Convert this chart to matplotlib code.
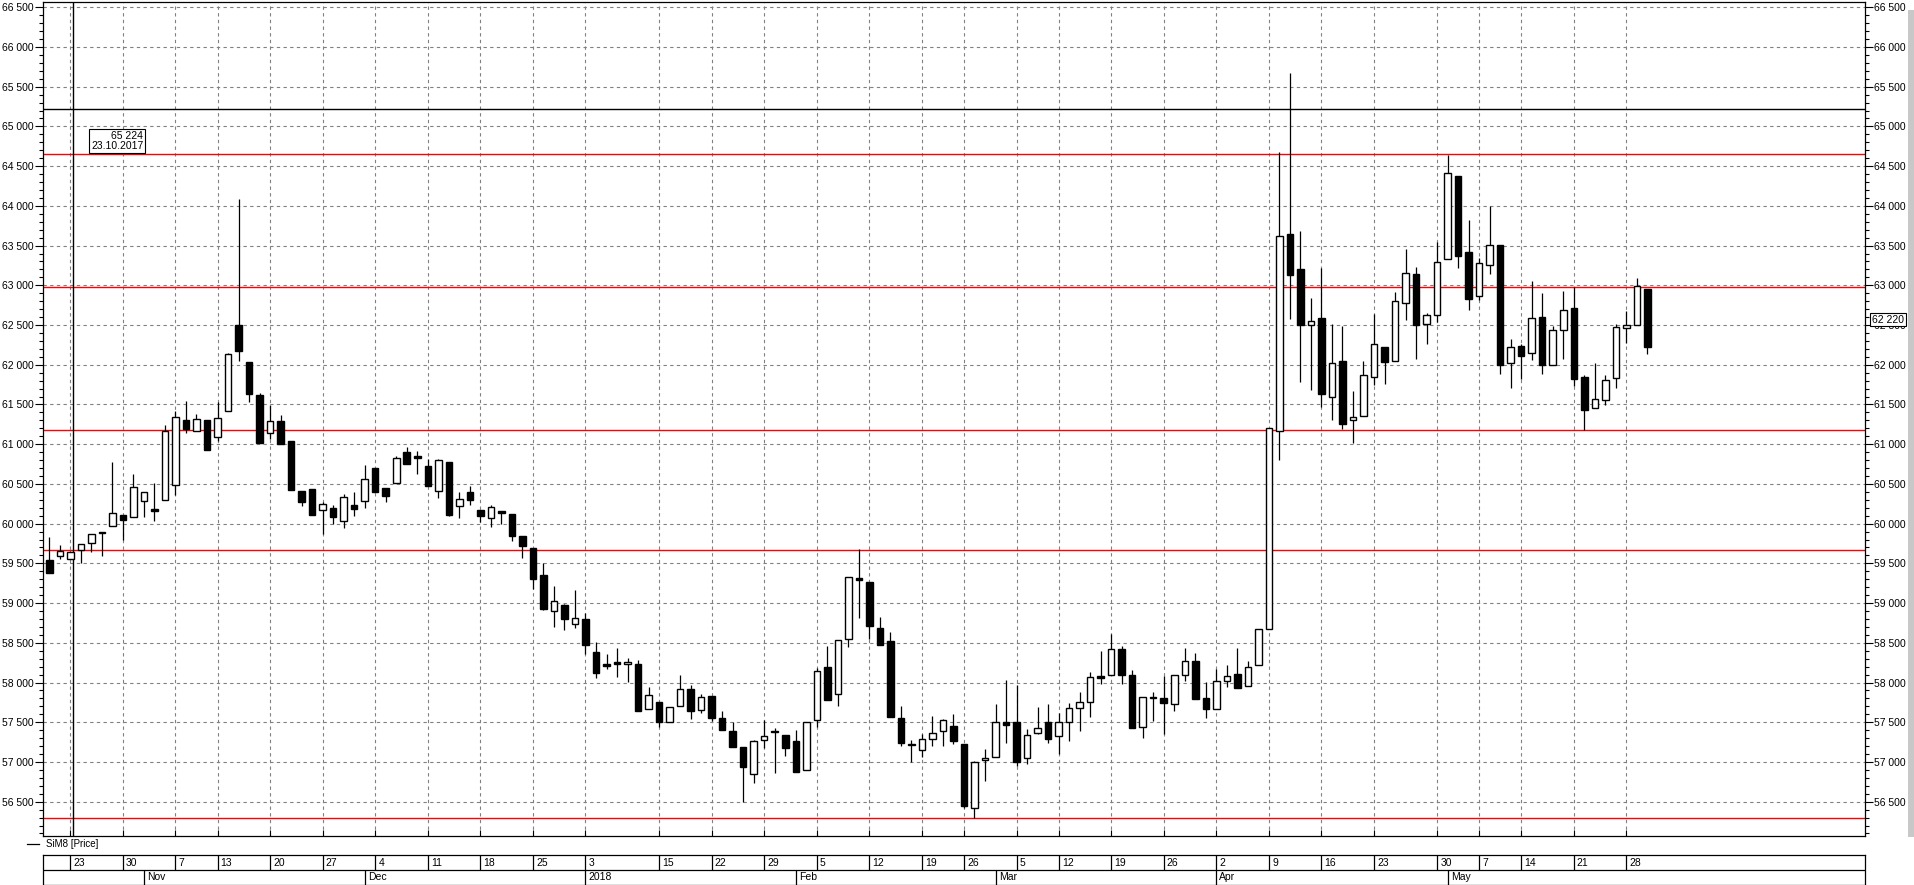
import matplotlib
matplotlib.use('Agg')
import matplotlib.pyplot as plt
from matplotlib.lines import Line2D
from matplotlib.patches import Rectangle
from matplotlib.ticker import FuncFormatter, MultipleLocator
import numpy as np

plt.rcParams['font.family'] = ['Liberation Sans', 'DejaVu Sans']

# daily candles for SiM8, 19.10.2017 .. 31.05.2018
opens = [59543, 59597, 59551, 59668, 59752, 59899, 59966, 60105, 60080, 60281,
         60185, 60294, 60482, 61305, 61162, 61305, 61087, 61418, 62497, 62031,
         61615, 61137, 61288, 61036, 60407, 60432, 60168, 60193, 60029, 60231,
         60281, 60696, 60445, 60508, 60898, 60852, 60726, 60407, 60772, 60218,
         60399, 60168, 60067, 60155, 60117, 59841, 59689, 59350, 58896, 58976,
         58733, 58796, 58385, 58217, 58254, 58229, 58229, 57663, 57751, 57499,
         57700, 57914, 57650, 57830, 57549, 57390, 57188, 56844, 57272, 57390,
         57339, 57264, 56895, 57524, 58195, 57851, 58544, 59312, 59261, 58682,
         58523, 57549, 57210, 57146, 57285, 57386, 57449, 57222, 56416, 57021,
         57058, 57499, 57499, 57050, 57365, 57499, 57327, 57507, 57675, 57751,
         58078, 58091, 58418, 58091, 57436, 57805, 57801, 57725, 58091, 58271,
         57801, 57663, 58019, 58103, 57956, 58221, 58670, 61166, 63642, 63201,
         62496, 62584, 61590, 62047, 61300, 61351, 61850, 62223, 62043, 62782,
         63142, 62509, 62622, 63327, 64376, 63419, 62861, 63251, 63507, 62018,
         62232, 62144, 62597, 62001, 62433, 62714, 61846, 61451, 61552, 61829,
         62458, 62496, 62949]
highs = [59828, 59731, 59660, 59740, 59866, 59899, 60772, 60105, 60621, 60394,
         60508, 61238, 61422, 61544, 61376, 61305, 61527, 62144, 64087, 62031,
         61641, 61494, 61364, 61036, 60407, 60432, 60277, 60235, 60373, 60399,
         60738, 60696, 60445, 60852, 60961, 60910, 60818, 60810, 60772, 60399,
         60474, 60168, 60231, 60155, 60117, 59841, 59689, 59509, 59215, 58990,
         59165, 58875, 58510, 58359, 58431, 58305, 58284, 57944, 57751, 57688,
         58095, 57969, 57856, 57830, 57637, 57499, 57188, 57277, 57524, 57423,
         57339, 57402, 57499, 58179, 58460, 58531, 59324, 59677, 59261, 58821,
         58632, 57705, 57277, 57352, 57579, 57537, 57604, 57222, 57016, 57163,
         57730, 58032, 57969, 57411, 57692, 57725, 57612, 57738, 57877, 58128,
         58397, 58611, 58460, 58153, 57822, 57877, 58086, 58091, 58430, 58367,
         58002, 58170, 58216, 58430, 58271, 58670, 61200, 64674, 65670, 63684,
         62840, 63222, 62513, 62488, 61670, 62047, 62639, 62223, 62912, 63457,
         63230, 62656, 63541, 64640, 64376, 63822, 63340, 63994, 63507, 62320,
         62257, 63054, 62903, 62488, 62928, 62975, 61871, 62018, 61871, 62513,
         62681, 63092, 62949]
lows = [59383, 59555, 59551, 59501, 59648, 59597, 59966, 59794, 60080, 60088,
        60038, 60294, 60361, 61145, 61162, 60931, 61036, 61418, 62052, 61536,
        61019, 61070, 61007, 60428, 60227, 60113, 59866, 59996, 59950, 60101,
        60201, 60403, 60277, 60508, 60747, 60629, 60478, 60327, 60100, 60075,
        60239, 60025, 59962, 59996, 59786, 59572, 59182, 58913, 58703, 58661,
        58691, 58363, 58061, 58175, 58074, 58007, 57646, 57663, 57444, 57499,
        57700, 57545, 57621, 57520, 57398, 57193, 56500, 56731, 57176, 56865,
        57079, 56878, 56895, 57444, 57784, 57709, 58451, 58816, 58544, 58477,
        57560, 57205, 57004, 57067, 57205, 57205, 57230, 56425, 56290, 56765,
        57058, 57243, 56950, 56980, 57356, 57235, 57100, 57268, 57394, 57570,
        57977, 58091, 57977, 57423, 57297, 57520, 57352, 57646, 58023, 57788,
        57549, 57663, 57948, 57930, 57956, 58221, 58670, 60800, 62580, 61787,
        61686, 61472, 61309, 61195, 61019, 61351, 61745, 61758, 62043, 62563,
        62072, 62265, 62542, 63327, 63222, 62689, 62815, 63142, 61884, 61707,
        61821, 62064, 61884, 62001, 62072, 61733, 61179, 61451, 61489, 61712,
        62278, 62496, 62140]
closes = [59383, 59656, 59639, 59740, 59866, 59878, 60134, 60050, 60457, 60394,
          60164, 61166, 61338, 61196, 61313, 60931, 61326, 62131, 62178, 61636,
          61019, 61288, 61007, 60428, 60268, 60113, 60243, 60088, 60331, 60189,
          60558, 60403, 60352, 60822, 60747, 60831, 60478, 60797, 60109, 60306,
          60302, 60101, 60206, 60130, 59849, 59723, 59308, 58930, 59022, 58804,
          58808, 58477, 58124, 58213, 58238, 58254, 57646, 57839, 57507, 57688,
          57914, 57646, 57814, 57558, 57398, 57193, 56941, 57264, 57323, 57373,
          57180, 56878, 57499, 58141, 57784, 58531, 59324, 59286, 58716, 58477,
          57570, 57243, 57214, 57293, 57360, 57524, 57268, 56446, 56995, 57046,
          57499, 57461, 57000, 57335, 57423, 57285, 57507, 57675, 57751, 58065,
          58061, 58418, 58091, 57423, 57814, 57810, 57738, 58091, 58271, 57788,
          57663, 58019, 58078, 57935, 58200, 58670, 61200, 63617, 63134, 62505,
          62547, 61628, 62018, 61258, 61338, 61867, 62257, 62039, 62798, 63151,
          62505, 62622, 63289, 64410, 63373, 62832, 63277, 63503, 61997, 62219,
          62114, 62584, 61997, 62433, 62685, 61825, 61435, 61565, 61808, 62471,
          62496, 62987, 62220]

# first trading day of each week (candle index) and the label under it
week_pos = [2, 7, 12, 16, 21, 26, 31, 36, 41, 46, 51, 58, 63, 68, 73, 78, 83, 87,
            92, 96, 101, 106, 111, 116, 121, 126, 132, 136, 140, 145, 150]
week_labels = ['23', '30', '7', '13', '20', '27', '4', '11', '18', '25', '3', '15',
               '22', '29', '5', '12', '19', '26', '5', '12', '19', '26', '2', '9',
               '16', '23', '30', '7', '14', '21', '28']
month_pos = [9, 30, 51, 71, 90, 111, 133]
month_labels = ['Nov', 'Dec', '2018', 'Feb', 'Mar', 'Apr', 'May']

red_levels = [64650, 62975, 61179, 59668, 56291]
cursor_price = 65224
cursor_idx = 2.28
cursor_date = '23.10.2017'
last_price = 62220

W, H = 1915, 885
fig = plt.figure(figsize=(W / 100, H / 100), dpi=100)
fig.patch.set_facecolor('white')

def fmt(v):
    return '{:,}'.format(int(round(v))).replace(',', ' ')

# main price panel
ax = fig.add_axes([43.3 / W, 1 - 836 / H, (1865 - 43.3) / W, (836 - 1.7) / H])
ax.set_xlim(-0.57, 172.7)
ax.set_ylim(56068, 66570)

o = np.array(opens, dtype=float)
c = np.array(closes, dtype=float)
x = np.arange(len(o))
up = c >= o
ax.vlines(x, lows, highs, color='black', lw=0.9, zorder=3)
ax.bar(x, np.maximum(np.abs(c - o), 15), bottom=np.minimum(o, c), width=0.62,
       color=np.where(up, 'white', 'black'), edgecolor='black', lw=1.0, zorder=4)

for lv in red_levels:
    ax.axhline(lv, color='#ff0000', lw=1.0, zorder=2)
ax.axhline(cursor_price, color='black', lw=1.0, zorder=2)
ax.axvline(cursor_idx, color='black', lw=1.0, zorder=2)

ax.yaxis.set_major_locator(MultipleLocator(500))
ax.yaxis.set_minor_locator(MultipleLocator(100))
ax.yaxis.set_major_formatter(FuncFormatter(lambda v, p: fmt(v)))
ax.tick_params(axis='y', which='major', direction='out', length=5.8, width=0.8,
               left=True, right=True, labelleft=True, labelright=True,
               labelsize=7.5, pad=1)
ax.tick_params(axis='y', which='minor', direction='out', length=2.9, width=0.8,
               left=True, right=True)
ax.set_xticks(week_pos)
ax.tick_params(axis='x', direction='in', length=4, width=0.8, labelbottom=False)
ax.grid(True, which='major', color='#808080', ls=(0, (3, 3)), lw=0.8, zorder=1)
for s in ax.spines.values():
    s.set_color('black')
    s.set_linewidth(0.9)

# cursor readout box
fig.text(91 / W, 1 - 131 / H, fmt(cursor_price) + '\n' + cursor_date, ha='left', va='top',
         multialignment='right', fontsize=7.5, linespacing=1.05,
         bbox=dict(boxstyle='square,pad=0.15', fc='white', ec='black', lw=0.8))

# last price on the right scale
fig.text(1872 / W, 1 - 319.7 / H, fmt(last_price), ha='left', va='center', fontsize=7.5,
         bbox=dict(boxstyle='square,pad=0.15', fc='white', ec='black', lw=0.8))

# legend
fig.add_artist(Line2D([27 / W, 39 / W], [1 - 844 / H, 1 - 844 / H], color='black', lw=0.9))
fig.text(46 / W, 1 - 844 / H, 'SiM8 [Price]', ha='left', va='center', fontsize=7)

# date scale
ax2 = fig.add_axes([43.3 / W, 0, (1865 - 43.3) / W, 30 / H])
ax2.set_xlim(ax.get_xlim())
ax2.set_ylim(0, 2)
ax2.set_xticks([])
ax2.set_yticks([])
ax2.axhline(1.03, color='black', lw=0.9)
ax2.vlines(week_pos, 1.03, 2, color='black', lw=0.9)
for p, lab in zip(week_pos, week_labels):
    ax2.text(p + 0.3, 1.5, lab, ha='left', va='center', fontsize=7.5)
ax2.vlines(month_pos, 0, 1.03, color='black', lw=0.9)
for p, lab in zip(month_pos, month_labels):
    ax2.text(p + 0.3, 0.5, lab, ha='left', va='center', fontsize=7.5)
for s in ax2.spines.values():
    s.set_color('black')
    s.set_linewidth(0.9)

# scrollbar strip at the right edge
fig.add_artist(Rectangle((1908 / W, 1 - 837 / H), 7 / W, 827 / H, transform=fig.transFigure,
                         facecolor='#c8c8c8', edgecolor='none'))

fig.savefig('out.png', dpi=100, facecolor='white')
